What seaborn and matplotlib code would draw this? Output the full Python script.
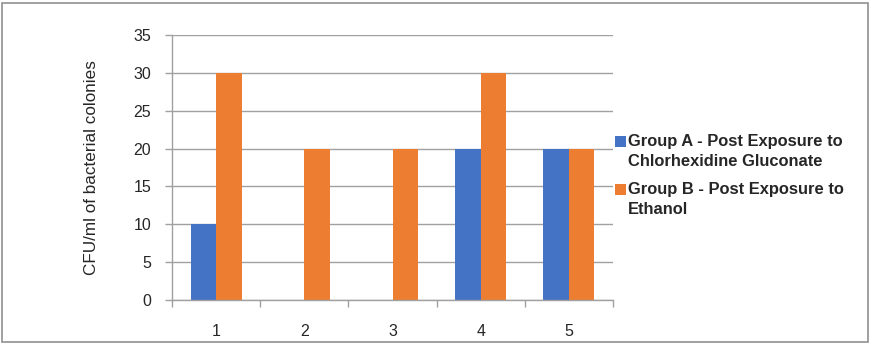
import matplotlib
matplotlib.use("Agg")
import matplotlib.pyplot as plt
from matplotlib.patches import Rectangle
import seaborn as sns
import pandas as pd

categories = ["1", "2", "3", "4", "5"]
group_a = [10, 0, 0, 20, 20]
group_b = [30, 20, 20, 30, 20]
series_names = ["Group A - Post Exposure to\nChlorhexidine Gluconate",
                "Group B - Post Exposure to\nEthanol"]
y_ticks = [0, 5, 10, 15, 20, 25, 30, 35]
y_label = "CFU/ml of bacterial colonies"

sns.set_style("white")
plt.rcParams['font.family'] = ['Liberation Sans', 'DejaVu Sans']

df = pd.DataFrame({
    "cat": categories * 2,
    "val": group_a + group_b,
    "series": [series_names[0]] * 5 + [series_names[1]] * 5,
})

fig = plt.figure(figsize=(8.7, 3.45), dpi=100)
ax = fig.add_axes([172/870, 45/345, (613-172)/870, (300-35)/345])
sns.barplot(data=df, x="cat", y="val", hue="series", order=categories,
            hue_order=series_names, palette=["#4472C4", "#ED7D31"],
            width=0.58, gap=0, saturation=1, linewidth=0, ax=ax, legend=True)

ax.set_xlim(-0.5, 4.5)
ax.set_ylim(0, 35)
ax.set_yticks(y_ticks)
ax.set_yticklabels([str(t) for t in y_ticks], fontsize=11.5)
ax.yaxis.grid(True, color="#A0A0A0", linewidth=1)
ax.set_axisbelow(True)
ax.set_xlabel("")
ax.set_ylabel(y_label, fontsize=12.3, labelpad=25)
ax.tick_params(axis='y', length=5, width=1, color="#A0A0A0", pad=10, left=True)
ax.set_xticks(range(5))
ax.set_xticklabels(categories, fontsize=11.5)
ax.set_xticks([-0.5, 0.5, 1.5, 2.5, 3.5, 4.5], minor=True)
ax.tick_params(axis='x', which='major', length=0, pad=17)
ax.tick_params(axis='x', which='minor', length=5, width=1, color="#A0A0A0", bottom=True)
for s in ["top", "right"]:
    ax.spines[s].set_visible(False)
for s in ["left", "bottom"]:
    ax.spines[s].set_color("#A0A0A0")
    ax.spines[s].set_linewidth(1)

handles, labels = ax.get_legend_handles_labels()
ax.get_legend().remove()
leg = fig.legend(handles, labels, loc="upper left", bbox_to_anchor=(600/870, 1 - 119/345),
                 frameon=False, handlelength=0.65, handleheight=0.65, handletextpad=0.15,
                 labelspacing=0.8, prop={'size': 11.9, 'weight': 'bold'})
for t in leg.get_texts():
    t.set_linespacing(1.4)
for h in leg.legend_handles:
    h.set_y(h.get_y() + 7.5)

fig.patches.append(Rectangle((2/870, 3/345), 866/870, 339/345, transform=fig.transFigure,
                             fill=False, edgecolor="#909090", linewidth=1.2))

fig.savefig("out.png", dpi=100)
